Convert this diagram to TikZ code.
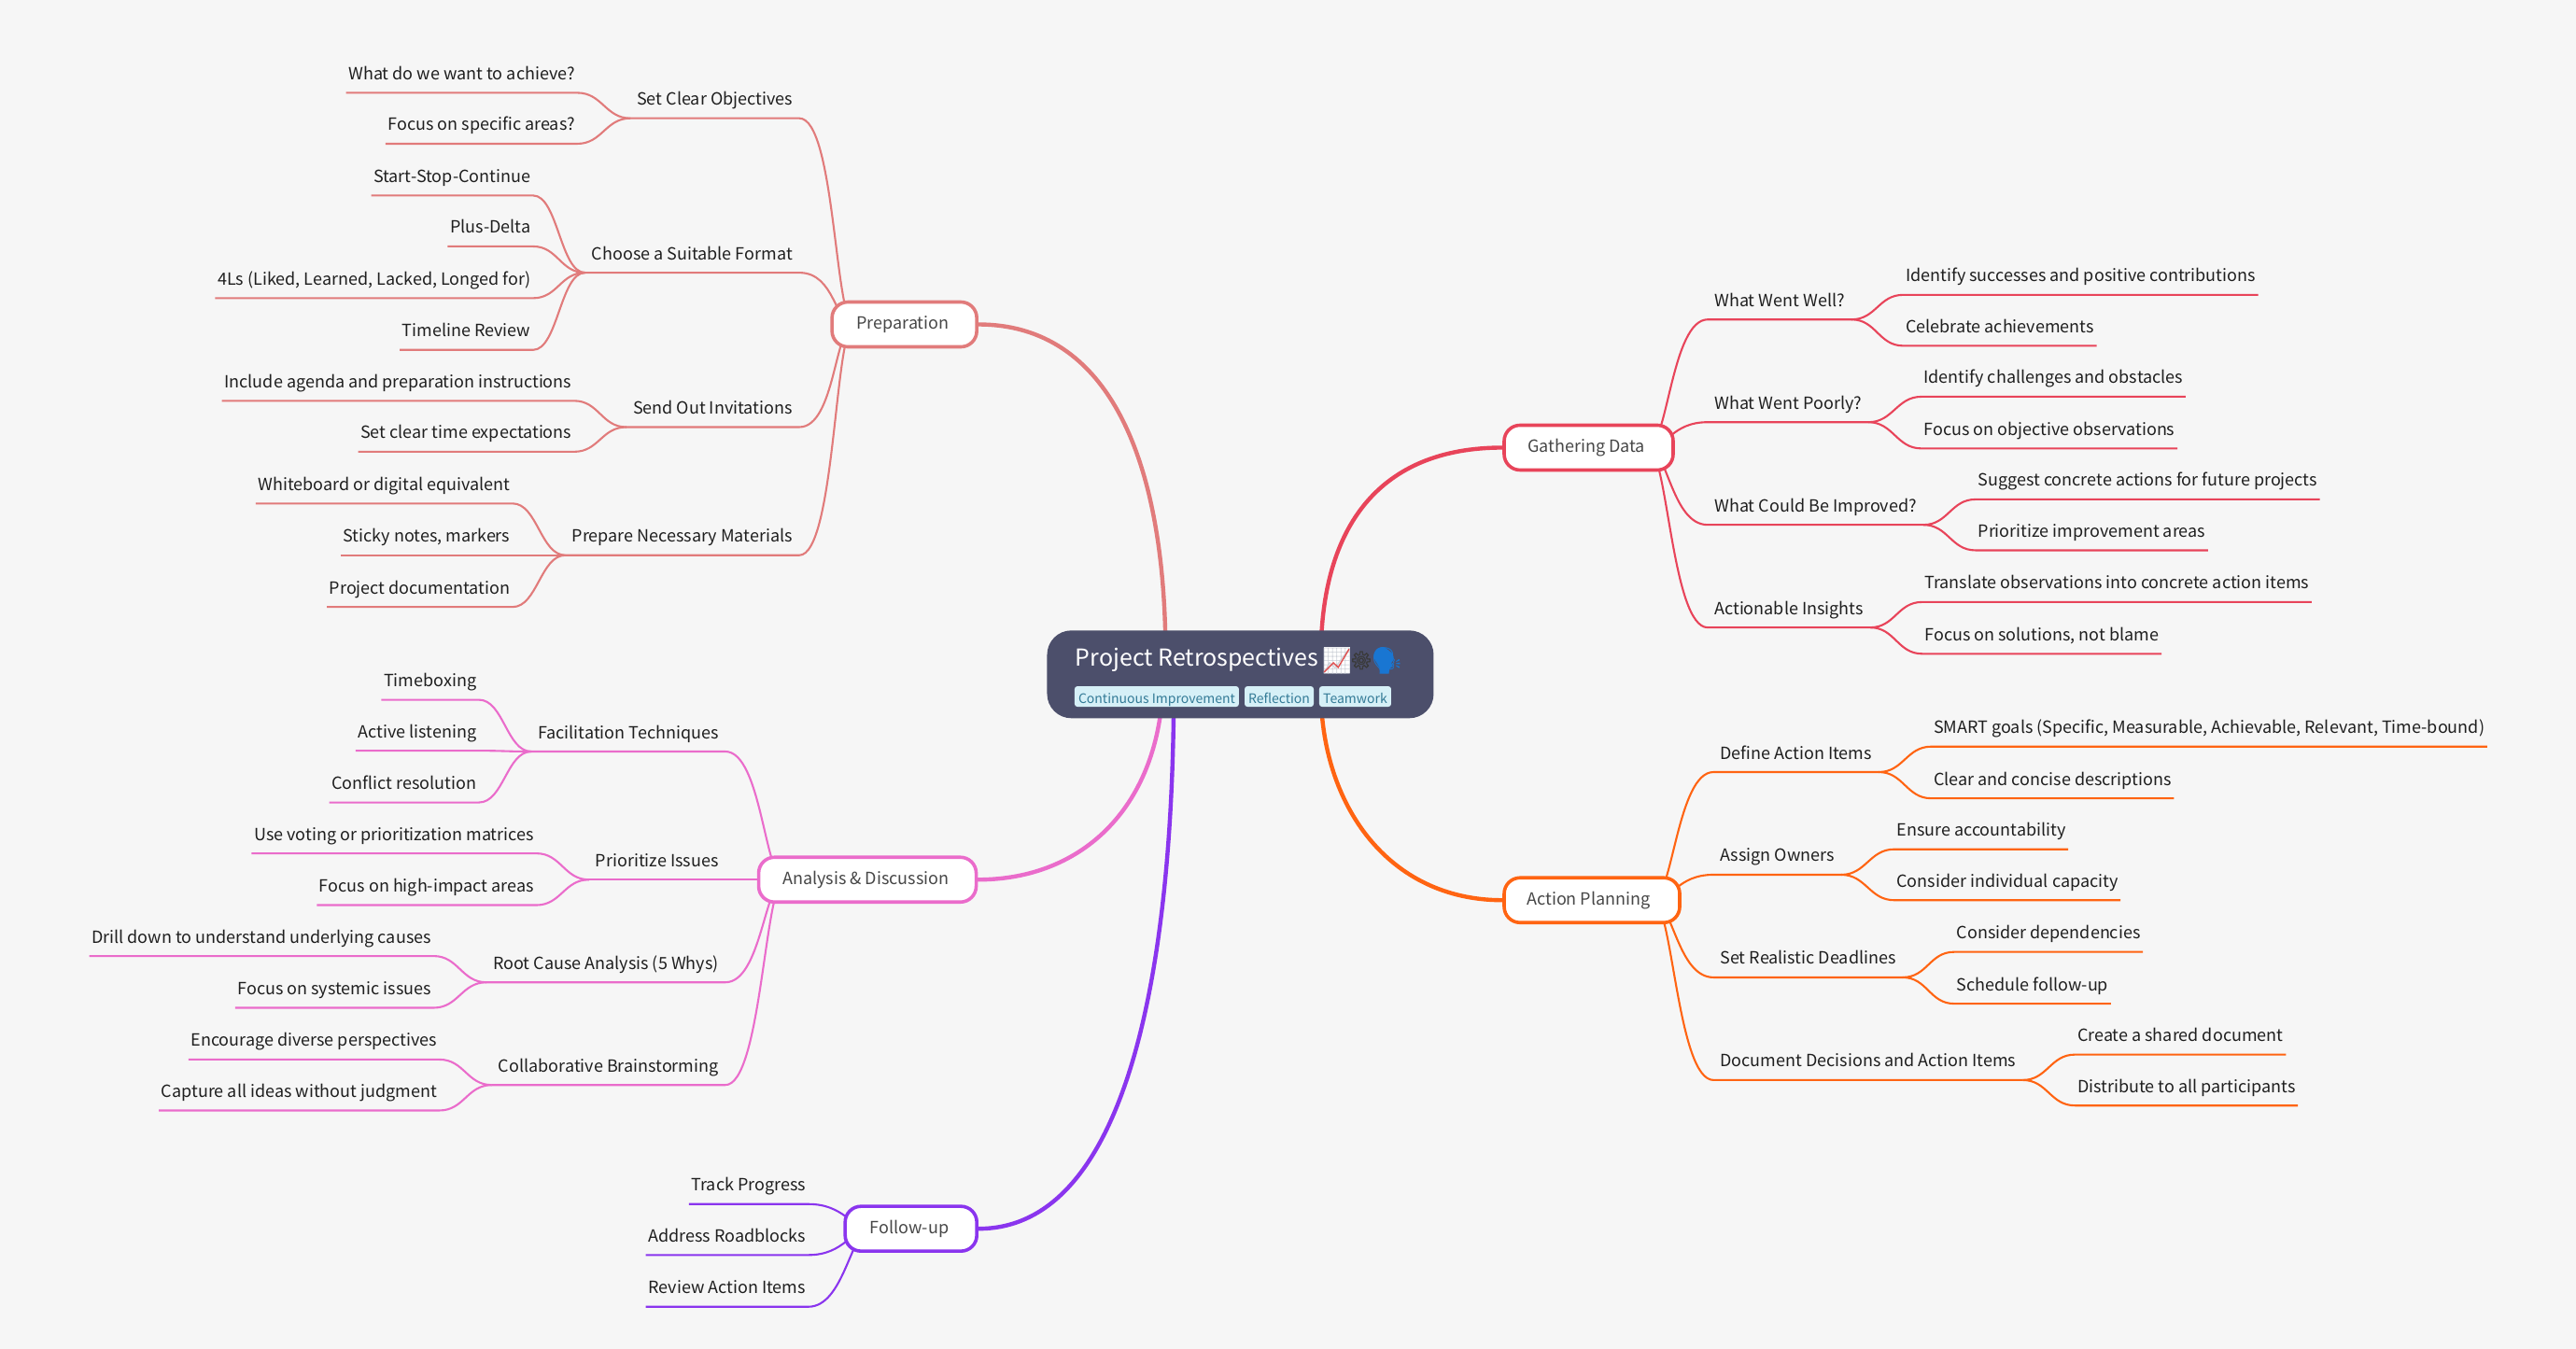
\documentclass[tikz,border=0pt]{standalone}
\usepackage{fontspec}
\usepackage{xcolor}
\usetikzlibrary{backgrounds}
\setmainfont{Noto Sans CJK SC}
\newfontfamily\emojifont{Noto Emoji}
\newfontfamily\gearfont[FakeBold=2]{Noto Emoji}
\definecolor{mapbg}{HTML}{F6F6F6}
\definecolor{rootfill}{HTML}{4C4F6B}
\definecolor{tagfill}{HTML}{D6F0F7}
\definecolor{tagtext}{HTML}{337A96}
\definecolor{preppink}{HTML}{E17B7B}
\definecolor{gatherred}{HTML}{E8445A}
\definecolor{talkpink}{HTML}{EA6CCB}
\definecolor{planorange}{HTML}{FF6412}
\definecolor{followviolet}{HTML}{8A35EE}
\definecolor{chartgrid}{HTML}{CDD1D8}
\definecolor{chartred}{HTML}{E05050}
\definecolor{gearink}{HTML}{3A3A3A}
\definecolor{headblue}{HTML}{1976D2}
\tikzset{
    mainnode/.style={rectangle, rounded corners=17pt, draw=#1, fill=white, line width=3.6pt,
        minimum height=48pt, text=black!72, font=\fontsize{18}{22}\selectfont, inner sep=0pt},
    rootnode/.style={rectangle, rounded corners=26pt, fill=rootfill, minimum width=414pt, minimum height=94pt, inner sep=0pt},
    tagnode/.style={rectangle, rounded corners=3pt, fill=tagfill, text=tagtext, inner sep=0pt, text height=16pt, text depth=2pt,
        minimum height=22pt, font=\fontsize{14}{18}\selectfont},
    topicbase/.style={text=black!88, font=\fontsize{18}{22}\selectfont, text height=13pt, text depth=0pt, inner ysep=13.8pt},
    subr/.style={topicbase, anchor=south west, inner xsep=7pt},
    subl/.style={topicbase, anchor=south east, inner xsep=7pt},
    leafr/.style={topicbase, anchor=south west, inner xsep=2.5pt},
    leafl/.style={topicbase, anchor=south east, inner xsep=2.5pt},
    thinline/.style={draw=#1, line width=2.1pt, line join=round},
    thickline/.style={draw=#1, line width=4.4pt, line cap=round}
}
\begin{document}
\begin{tikzpicture}[x=1.7596pt,y=-1.7596pt]
\useasboundingbox (0,0) rectangle (1568,821.2);

% centre
\node[rootnode] (root) at (755,410.5) {};
\node[anchor=base west, text=white, inner sep=0pt, font=\fontsize{25}{30}\selectfont] (roottitle) at (654.5,405.5) {Project Retrospectives};
\node[rectangle, fill=white, minimum size=28pt, inner sep=0pt] (chartback) at (813.7,402) {};
\node[text=chartgrid, inner sep=0pt, font=\emojifont\fontsize{27.5}{32}\selectfont] (rootchart) at (813.7,402.3) {📈};
\draw[chartred, line width=1.4pt] ([shift={(0.6pt,1.7pt)}]chartback.south west) -- ([shift={(10.6pt,11.5pt)}]chartback.south west)
    -- ([shift={(15.7pt,6.7pt)}]chartback.south west) -- ([shift={(27.4pt,26.3pt)}]chartback.south west);
\node[text=gearink, inner sep=0pt, font=\gearfont\fontsize{19}{24}\selectfont] (rootgear) at (828.6,402) {⚙};
\coordinate (headspot) at (844.2,402.1);
\begin{scope}[shift={(headspot)},x=28pt,y=-28pt]
\fill[headblue] plot[smooth cycle, tension=0.5] coordinates {(-.12,-.51) (.22,-.25) (.25,-.02) (.15,.11) (.23,.21) (.09,.32) (.06,.47) (-.25,.47) (-.28,.28) (-.50,-.13) (-.39,-.43)};
\end{scope}
\node[text=headblue, inner sep=0pt, font=\emojifont\fontsize{28}{32}\selectfont] (roothead) at (headspot) {🗣};
\node[tagnode, minimum width=176pt] (tagimprove) at (704.1,424) {Continuous Improvement};
\node[tagnode, minimum width=74pt] (tagreflect) at (778.6,424) {Reflection};
\node[tagnode, minimum width=77pt] (tagteam) at (824.9,424) {Teamwork};

% main topics
\node[mainnode=preppink, minimum width=155pt] (prep) at (550.5,197.5) {Preparation\hspace*{3.5pt}};
\node[mainnode=gatherred, minimum width=181pt] (gather) at (967,272.5) {Gathering Data\hspace*{5pt}};
\node[mainnode=talkpink, minimum width=233pt] (talk) at (528,535.5) {Analysis \& Discussion\hspace*{3.5pt}};
\node[mainnode=planorange, minimum width=188pt] (plan) at (969,548) {Action Planning\hspace*{7pt}};
\node[mainnode=followviolet, minimum width=141pt] (follow) at (554.5,748) {Follow-up\hspace*{3.5pt}};

\coordinate (prephub) at (520,197.5);
\coordinate (gatherhub) at (1003,272.5);
\coordinate (talkhub) at (477.5,535.5);
\coordinate (planhub) at (1006,548);
\coordinate (followhub) at (530,748);
\coordinate (rootprep) at (709.5,400);
\coordinate (roottalk) at (708,415);
\coordinate (rootfollow) at (714.5,415);
\coordinate (rootgather) at (804,400);
\coordinate (rootplan) at (804,420);

% preparation
\node[subl] (objectives) at (486.5,72) {Set Clear Objectives};
\node[subl] (format) at (486.5,166) {Choose a Suitable Format};
\node[subl] (invites) at (486.5,260) {Send Out Invitations};
\node[subl] (materials) at (486.5,338) {Prepare Necessary Materials};
\node[leafl] (achieve) at (351.5,56.5) {What do we want to achieve?};
\node[leafl] (areas) at (351.5,87.5) {Focus on specific areas?};
\node[leafl] (startstop) at (324.5,119) {Start-Stop-Continue};
\node[leafl] (plusdelta) at (324.5,150) {Plus-Delta};
\node[leafl] (fourls) at (324.5,181.5) {4Ls (Liked, Learned, Lacked, Longed for)};
\node[leafl] (timeline) at (324.5,213) {Timeline Review};
\node[leafl] (agenda) at (349.5,244) {Include agenda and preparation instructions};
\node[leafl] (timeexp) at (349.5,275) {Set clear time expectations};
\node[leafl] (whiteboard) at (312,306.5) {Whiteboard or digital equivalent};
\node[leafl] (sticky) at (312,338) {Sticky notes, markers};
\node[leafl] (docs) at (312,369.5) {Project documentation};

% gathering data
\node[subr] (wentwell) at (1039.5,194.5) {What Went Well?};
\node[subr] (wentpoor) at (1039.5,257) {What Went Poorly?};
\node[subr] (improved) at (1039.5,319.5) {What Could Be Improved?};
\node[subr] (insights) at (1039.5,382) {Actionable Insights};
\node[leafr] (successes) at (1158.5,179.5) {Identify successes and positive contributions};
\node[leafr] (celebrate) at (1158.5,210.5) {Celebrate achievements};
\node[leafr] (obstacles) at (1169.5,241.5) {Identify challenges and obstacles};
\node[leafr] (objective) at (1169.5,273) {Focus on objective observations};
\node[leafr] (concrete) at (1202.5,304) {Suggest concrete actions for future projects};
\node[leafr] (priorities) at (1202.5,335) {Prioritize improvement areas};
\node[leafr] (translate) at (1170,366.5) {Translate observations into concrete action items};
\node[leafr] (solutions) at (1170,398) {Focus on solutions, not blame};

% analysis
\node[subl] (facilitate) at (441.5,457.5) {Facilitation Techniques};
\node[subl] (prioritize) at (441.5,535.5) {Prioritize Issues};
\node[subl] (rootcause) at (441.5,598) {Root Cause Analysis (5 Whys)};
\node[subl] (brainstorm) at (441.5,660.5) {Collaborative Brainstorming};
\node[leafl] (timeboxing) at (291.5,426) {Timeboxing};
\node[leafl] (listening) at (291.5,457) {Active listening};
\node[leafl] (conflict) at (291.5,488.5) {Conflict resolution};
\node[leafl] (voting) at (326.5,519.5) {Use voting or prioritization matrices};
\node[leafl] (impact) at (326.5,551) {Focus on high-impact areas};
\node[leafl] (drill) at (264,582) {Drill down to understand underlying causes};
\node[leafl] (systemic) at (264,613.5) {Focus on systemic issues};
\node[leafl] (diverse) at (267.5,645) {Encourage diverse perspectives};
\node[leafl] (capture) at (267.5,676) {Capture all ideas without judgment};

% action planning
\node[subr] (define) at (1043,470) {Define Action Items};
\node[subr] (owners) at (1043,532.5) {Assign Owners};
\node[subr] (deadlines) at (1043,595) {Set Realistic Deadlines};
\node[subr] (decisions) at (1043,657.5) {Document Decisions and Action Items};
\node[leafr] (smart) at (1175.5,454.5) {SMART goals (Specific, Measurable, Achievable, Relevant, Time-bound)};
\node[leafr] (concise) at (1175.5,486) {Clear and concise descriptions};
\node[leafr] (account) at (1153,517) {Ensure accountability};
\node[leafr] (capacity) at (1153,548) {Consider individual capacity};
\node[leafr] (depends) at (1189.5,579.5) {Consider dependencies};
\node[leafr] (followup) at (1189.5,611) {Schedule follow-up};
\node[leafr] (shared) at (1263,642) {Create a shared document};
\node[leafr] (distribute) at (1263,673) {Distribute to all participants};

% follow-up
\node[leafl] (progress) at (492,733) {Track Progress};
\node[leafl] (roadblocks) at (492,764) {Address Roadblocks};
\node[leafl] (review) at (492,795.5) {Review Action Items};

\begin{scope}[on background layer]
\fill[mapbg] (0,0) rectangle (1568,821.2);

\draw[thickline=preppink] (prep.east) .. controls (675,197.5) and (709.5,280) .. (rootprep);
\draw[thickline=gatherred] (gather.west) .. controls (840,272.5) and (804,320) .. (rootgather);
\draw[thickline=talkpink] (talk.east) .. controls (660,535.5) and (706,490) .. (roottalk);
\draw[thickline=planorange] (plan.west) .. controls (845,548) and (804,490) .. (rootplan);
\draw[thickline=followviolet] (follow.east) .. controls (680,748) and (714.5,610) .. (rootfollow);

% sub topics towards the left
\foreach \kid in {objectives,format,invites,materials}
    \draw[thinline=preppink] (prephub) .. controls +(-12,0) and +(22,0) .. (\kid.south east) -- (\kid.south west);
\foreach \kid in {facilitate,prioritize,rootcause,brainstorm}
    \draw[thinline=talkpink] (talkhub) .. controls +(-12,0) and +(22,0) .. (\kid.south east) -- (\kid.south west);
\foreach \kid in {progress,roadblocks,review}
    \draw[thinline=followviolet] (followhub) .. controls +(-12,0) and +(22,0) .. (\kid.south east) -- (\kid.south west);

% sub topics towards the right
\foreach \kid in {wentwell,wentpoor,improved,insights}
    \draw[thinline=gatherred] (gatherhub) .. controls +(12,0) and +(-22,0) .. (\kid.south west) -- (\kid.south east);
\foreach \kid in {define,owners,deadlines,decisions}
    \draw[thinline=planorange] (planhub) .. controls +(12,0) and +(-22,0) .. (\kid.south west) -- (\kid.south east);

% leaves
\foreach \sub/\kids in {objectives/{achieve,areas}, format/{startstop,plusdelta,fourls,timeline}, invites/{agenda,timeexp}, materials/{whiteboard,sticky,docs}}
    \foreach \kid in \kids
        \draw[thinline=preppink] (\sub.south west) .. controls +(-15,0) and +(15,0) .. (\kid.south east) -- (\kid.south west);
\foreach \sub/\kids in {facilitate/{timeboxing,listening,conflict}, prioritize/{voting,impact}, rootcause/{drill,systemic}, brainstorm/{diverse,capture}}
    \foreach \kid in \kids
        \draw[thinline=talkpink] (\sub.south west) .. controls +(-15,0) and +(15,0) .. (\kid.south east) -- (\kid.south west);
\foreach \sub/\kids in {wentwell/{successes,celebrate}, wentpoor/{obstacles,objective}, improved/{concrete,priorities}, insights/{translate,solutions}}
    \foreach \kid in \kids
        \draw[thinline=gatherred] (\sub.south east) .. controls +(15,0) and +(-15,0) .. (\kid.south west) -- (\kid.south east);
\foreach \sub/\kids in {define/{smart,concise}, owners/{account,capacity}, deadlines/{depends,followup}, decisions/{shared,distribute}}
    \foreach \kid in \kids
        \draw[thinline=planorange] (\sub.south east) .. controls +(15,0) and +(-15,0) .. (\kid.south west) -- (\kid.south east);
\end{scope}
\end{tikzpicture}
\end{document}
